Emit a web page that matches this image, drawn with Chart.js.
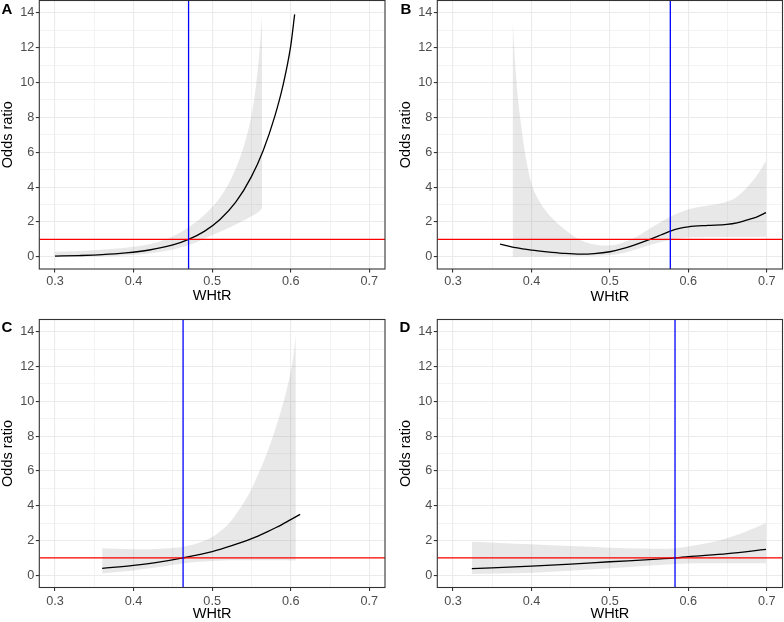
<!DOCTYPE html>
<html>
<head>
<meta charset="utf-8">
<script src="https://cdn.jsdelivr.net/npm/chart.js@4.4.1/dist/chart.umd.min.js"></script>
<style>
  html, body { margin: 0; padding: 0; background: #fff; }
  #wrap { position: relative; width: 784px; height: 622px; overflow: hidden; }
  canvas { position: absolute; }
  .tag { position: absolute; font: bold 15px "Liberation Sans", Arial, sans-serif; line-height: 15px; color: #000; }
</style>
</head>
<body>
<div id="wrap">
  <canvas id="cA" width="392" height="311" style="left:0;top:0"></canvas>
  <canvas id="cB" width="392" height="311" style="left:392px;top:0"></canvas>
  <canvas id="cC" width="392" height="311" style="left:0;top:311px"></canvas>
  <canvas id="cD" width="392" height="311" style="left:392px;top:311px"></canvas>
  <div class="tag" style="left:1.5px;top:1.3px">A</div>
  <div class="tag" style="left:400.5px;top:1.3px">B</div>
  <div class="tag" style="left:1.5px;top:319px">C</div>
  <div class="tag" style="left:399.5px;top:318.5px">D</div>
</div>
<script>
// axes: major ticks get a label, minor ones only a thin grid line
const xMajor = [0.3, 0.4, 0.5, 0.6, 0.7];
const xMinor = [0.35, 0.45, 0.55, 0.65];
const yMajor = [0, 2, 4, 6, 8, 10, 12, 14];
const yMinor = [1, 3, 5, 7, 9, 11, 13];
const xRange = [0.28, 0.72];
const yRange = [-0.7, 14.7];
const refOR = 1;

// panel A
const aCutoff = 0.470;
const aLineX = [0.300, 0.330, 0.360, 0.390, 0.420, 0.450, 0.470, 0.490, 0.510, 0.530, 0.550, 0.565, 0.580, 0.590, 0.600, 0.605];
const aLineY = [0.04, 0.07, 0.12, 0.22, 0.39, 0.68, 1.00, 1.46, 2.14, 3.13, 4.60, 6.10, 8.10, 9.80, 12.1, 13.9];
const aRibX  = [0.300, 0.350, 0.400, 0.430, 0.450, 0.470, 0.490, 0.510, 0.525, 0.540, 0.550, 0.556, 0.5605, 0.5635];
const aRibHi = [0.29, 0.38, 0.57, 0.84, 1.18, 1.70, 2.40, 3.40, 4.55, 6.30, 8.10, 9.90, 11.9, 13.9];
const aRibLo = [0.00, 0.03, 0.11, 0.26, 0.42, 0.66, 1.03, 1.43, 1.74, 2.08, 2.32, 2.48, 2.62, 2.80];

// panel B
const bCutoff = 0.577;
const bLineX = [0.360, 0.380, 0.400, 0.420, 0.440, 0.4625, 0.480, 0.500, 0.515, 0.530, 0.551, 0.565, 0.577, 0.590, 0.600, 0.625, 0.649, 0.662, 0.674, 0.687, 0.699];
const bLineY = [0.73, 0.52, 0.38, 0.28, 0.20, 0.15, 0.18, 0.29, 0.45, 0.66, 1.00, 1.25, 1.47, 1.64, 1.72, 1.80, 1.86, 1.95, 2.10, 2.28, 2.53];
const bRibX  = [0.376, 0.378, 0.380, 0.383, 0.387, 0.392, 0.400, 0.410, 0.418, 0.430, 0.445, 0.460, 0.475, 0.490, 0.505, 0.520, 0.535, 0.551, 0.565, 0.577, 0.590, 0.600, 0.615, 0.632, 0.649, 0.662, 0.674, 0.687, 0.699];
const bRibHi = [13.7, 12.0, 10.6, 9.00, 7.50, 5.90, 4.20, 3.20, 2.65, 2.05, 1.48, 1.02, 0.76, 0.65, 0.68, 0.86, 1.18, 1.62, 2.00, 2.30, 2.55, 2.72, 2.87, 2.98, 3.16, 3.45, 3.95, 4.65, 5.50];
const bRibLo = [0.00, 0.00, 0.00, 0.00, 0.01, 0.01, 0.01, 0.02, 0.02, 0.03, 0.04, 0.05, 0.06, 0.08, 0.12, 0.25, 0.45, 0.67, 0.85, 0.97, 1.06, 1.10, 1.12, 1.13, 1.13, 1.13, 1.14, 1.14, 1.15];

// panel C
const cCutoff = 0.463;
const cLineX = [0.360, 0.400, 0.430, 0.463, 0.500, 0.525, 0.551, 0.570, 0.582, 0.600, 0.612];
const cLineY = [0.40, 0.57, 0.74, 1.00, 1.36, 1.70, 2.12, 2.50, 2.76, 3.20, 3.50];
const cRibX  = [0.360, 0.380, 0.400, 0.420, 0.440, 0.463, 0.480, 0.500, 0.515, 0.527, 0.540, 0.551, 0.560, 0.570, 0.580, 0.587, 0.594, 0.600, 0.6035, 0.6065];
const cRibHi = [1.55, 1.52, 1.50, 1.50, 1.54, 1.64, 1.82, 2.20, 2.70, 3.30, 4.15, 5.05, 5.95, 7.05, 8.35, 9.35, 10.5, 11.7, 12.6, 13.8];
const cRibLo = [0.10, 0.19, 0.28, 0.40, 0.52, 0.68, 0.76, 0.82, 0.85, 0.86, 0.87, 0.87, 0.87, 0.87, 0.86, 0.86, 0.86, 0.85, 0.85, 0.85];

// panel D
const dCutoff = 0.583;
const dLineX = [0.324, 0.400, 0.450, 0.500, 0.550, 0.583, 0.600, 0.650, 0.699];
const dLineY = [0.38, 0.53, 0.64, 0.78, 0.90, 1.00, 1.07, 1.25, 1.49];
const dRibX  = [0.324, 0.360, 0.400, 0.450, 0.500, 0.540, 0.564, 0.583, 0.600, 0.625, 0.648, 0.670, 0.699];
const dRibHi = [1.93, 1.86, 1.78, 1.68, 1.59, 1.54, 1.53, 1.56, 1.66, 1.85, 2.12, 2.45, 3.00];
const dRibLo = [0.07, 0.10, 0.15, 0.26, 0.40, 0.52, 0.59, 0.65, 0.68, 0.69, 0.69, 0.69, 0.69];

const FONT = '"Liberation Sans", Arial, sans-serif';
const RIBBON = 'rgba(128, 128, 128, 0.18)';

function toPts(xs, ys) {
    return xs.map((x, i) => ({ x: x, y: ys[i] }));
}

// full grey frame around the plotting area, like theme_bw
const panelFrame = {
    id: 'panelFrame',
    afterDatasetsDraw(chart) {
        const { ctx, chartArea: a } = chart;
        ctx.save();
        ctx.strokeStyle = '#333333';
        ctx.lineWidth = 1.1;
        ctx.strokeRect(a.left, a.top, a.right - a.left, a.bottom - a.top);
        ctx.restore();
    }
};

function gridOpts(major) {
    const isMajor = c => c.tick && major.includes(c.tick.value);
    return {
        color: '#EBEBEB',
        lineWidth: c => isMajor(c) ? 1.1 : 0.6,
        tickLength: 3.5,
        tickColor: c => isMajor(c) ? '#333333' : 'rgba(0,0,0,0)',
        tickWidth: 1.1
    };
}

function makePanel(id, box, cutoff, lineX, lineY, ribX, ribHi, ribLo) {
    const datasets = [
        {
            label: 'cut-off',
            data: [{ x: cutoff, y: yRange[0] }, { x: cutoff, y: yRange[1] }],
            borderColor: '#0000FF', borderWidth: 1.3,
            showLine: true, pointRadius: 0, fill: false
        },
        {
            label: 'OR = 1',
            data: [{ x: xRange[0], y: refOR }, { x: xRange[1], y: refOR }],
            borderColor: '#FF0000', borderWidth: 1.4,
            showLine: true, pointRadius: 0, fill: false
        },
        {
            label: 'Odds ratio',
            data: toPts(lineX, lineY),
            borderColor: '#000000', borderWidth: 1.3,
            showLine: true, pointRadius: 0, fill: false,
            cubicInterpolationMode: 'monotone'
        },
        {
            label: 'upper',
            data: toPts(ribX, ribHi),
            borderColor: 'rgba(0,0,0,0)', borderWidth: 0,
            backgroundColor: RIBBON,
            showLine: true, pointRadius: 0, fill: '+1',
            cubicInterpolationMode: 'monotone'
        },
        {
            label: 'lower',
            data: toPts(ribX, ribLo),
            borderColor: 'rgba(0,0,0,0)', borderWidth: 0,
            showLine: true, pointRadius: 0, fill: false,
            cubicInterpolationMode: 'monotone'
        }
    ];

    new Chart(document.getElementById(id), {
        type: 'scatter',
        data: { datasets: datasets },
        plugins: [panelFrame],
        options: {
            responsive: false,
            animation: false,
            layout: { padding: { left: 0, top: box.t, right: 392 - box.r, bottom: 0 } },
            plugins: {
                legend: { display: false },
                tooltip: { enabled: false }
            },
            scales: {
                x: {
                    type: 'linear',
                    min: xRange[0],
                    max: xRange[1],
                    afterBuildTicks: s => {
                        s.ticks = xMajor.concat(xMinor).sort((a, b) => a - b).map(v => ({ value: v }));
                    },
                    afterFit: s => {
                        s.height = 311 - box.b;
                        s.paddingLeft = 0;
                        s.paddingRight = 0;
                    },
                    ticks: {
                        autoSkip: false,
                        maxRotation: 0,
                        padding: box.xtp,
                        color: '#4D4D4D',
                        font: { family: FONT, size: 12.7, lineHeight: 1.2 },
                        callback: v => xMajor.includes(v) ? v.toFixed(1) : ''
                    },
                    grid: gridOpts(xMajor),
                    border: { display: false },
                    title: {
                        display: true,
                        text: 'WHtR',
                        color: '#000000',
                        font: { family: FONT, size: 14.5, lineHeight: 1.1 },
                        padding: { top: 0, bottom: box.xtt }
                    }
                },
                y: {
                    type: 'linear',
                    min: yRange[0],
                    max: yRange[1],
                    afterBuildTicks: s => {
                        s.ticks = yMajor.concat(yMinor).sort((a, b) => a - b).map(v => ({ value: v }));
                    },
                    afterFit: s => {
                        s.width = box.l;
                        s.paddingTop = 0;
                        s.paddingBottom = 0;
                    },
                    ticks: {
                        autoSkip: false,
                        padding: 1.5,
                        color: '#4D4D4D',
                        font: { family: FONT, size: 12.7, lineHeight: 1.2 },
                        callback: v => yMajor.includes(v) ? String(v) : ''
                    },
                    grid: gridOpts(yMajor),
                    border: { display: false },
                    title: {
                        display: true,
                        text: 'Odds ratio',
                        color: '#000000',
                        font: { family: FONT, size: 14.5, lineHeight: 1.1 },
                        padding: { top: box.ytp, bottom: 0 }
                    }
                }
            }
        }
    });
}

makePanel('cA', { l: 39.3, r: 385, t: 0.5, b: 269, xtp: 1.4, xtt: 7.0, ytp: 0 }, aCutoff, aLineX, aLineY, aRibX, aRibHi, aRibLo);
makePanel('cB', { l: 45.3, r: 390.5, t: 0.5, b: 269, xtp: 1.4, xtt: 6.5, ytp: 6 }, bCutoff, bLineX, bLineY, bRibX, bRibHi, bRibLo);
makePanel('cC', { l: 39.3, r: 385, t: 8.5, b: 276.5, xtp: 2.4, xtt: 0, ytp: 0 }, cCutoff, cLineX, cLineY, cRibX, cRibHi, cRibLo);
makePanel('cD', { l: 45.3, r: 390.5, t: 8.5, b: 276.5, xtp: 2.4, xtt: 0, ytp: 6 }, dCutoff, dLineX, dLineY, dRibX, dRibHi, dRibLo);
</script>
</body>
</html>
